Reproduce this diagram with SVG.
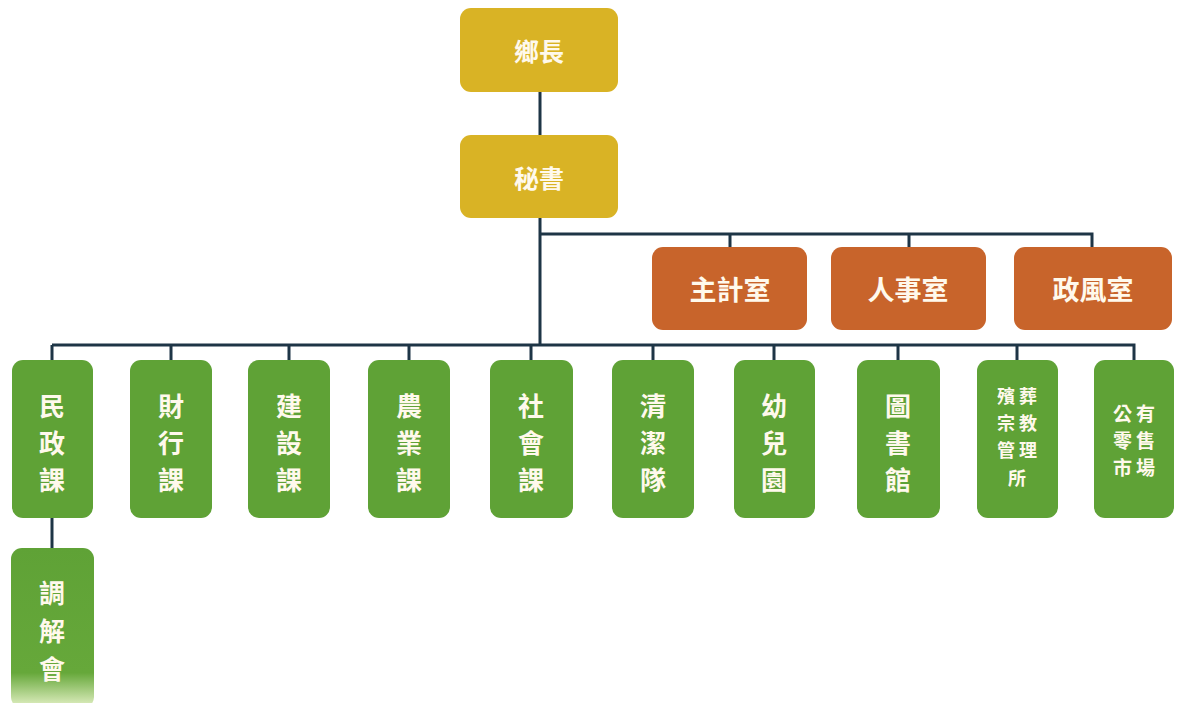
<svg xmlns="http://www.w3.org/2000/svg" width="1178" height="703" viewBox="0 0 1178 703">
<defs>
<style>
.y{fill:#D9B325}
.o{fill:#C8642B}
.g{fill:#5FA236}
.t{fill:#FFF9EC;font-family:"Noto Sans CJK TC","Noto Sans CJK SC",sans-serif;font-weight:bold;text-anchor:middle;dominant-baseline:central}
.s{letter-spacing:4px}
.ln{stroke:#1E3546;stroke-width:3;fill:none}
</style>
<linearGradient id="fade" x1="0" y1="0" x2="0" y2="1">
<stop offset="0" stop-color="#5FA236"/>
<stop offset="0.78" stop-color="#66A83A"/>
<stop offset="1" stop-color="#E6F2C8"/>
</linearGradient>
</defs>
<rect width="1178" height="703" fill="#fff"/>
<g id="connectors" class="ln">
<path d="M540 92V135M540 218V345"/>
<path d="M540 234H1092V247M730 234V247M909 234V247"/>
<path d="M52 345H1134V360M52 345V360M171 345V360M289 345V360M409 345V360M531 345V360M653 345V360M774 345V360M898 345V360M1017 345V360"/>
<path d="M52 518V548"/>
</g>
<g id="n-xiangzhang"><rect class="y" x="460" y="8" width="158" height="84" rx="11"/><text class="t" x="539" y="50" font-size="25">鄉長</text></g>
<g id="n-mishu"><rect class="y" x="460" y="135" width="158" height="83" rx="11"/><text class="t" x="539" y="177" font-size="25">秘書</text></g>
<g id="n-zhuji"><rect class="o" x="652" y="247" width="155" height="83" rx="11"/><text class="t" x="730" y="288" font-size="27">主計室</text></g>
<g id="n-renshi"><rect class="o" x="831" y="247" width="155" height="83" rx="11"/><text class="t" x="908" y="288" font-size="27">人事室</text></g>
<g id="n-zhengfeng"><rect class="o" x="1014" y="247" width="158" height="83" rx="11"/><text class="t" x="1093" y="288" font-size="27">政風室</text></g>
<g id="n-minzheng"><rect class="g" x="12" y="360" width="81" height="158" rx="11"/><text class="t" font-size="26" x="52"><tspan x="52" y="404">民</tspan><tspan x="52" y="441">政</tspan><tspan x="52" y="478">課</tspan></text></g>
<g id="n-caixing"><rect class="g" x="130" y="360" width="82" height="158" rx="11"/><text class="t" font-size="26"><tspan x="171" y="404">財</tspan><tspan x="171" y="441">行</tspan><tspan x="171" y="478">課</tspan></text></g>
<g id="n-jianshe"><rect class="g" x="248" y="360" width="82" height="158" rx="11"/><text class="t" font-size="26"><tspan x="289" y="404">建</tspan><tspan x="289" y="441">設</tspan><tspan x="289" y="478">課</tspan></text></g>
<g id="n-nongye"><rect class="g" x="368" y="360" width="82" height="158" rx="11"/><text class="t" font-size="26"><tspan x="409" y="404">農</tspan><tspan x="409" y="441">業</tspan><tspan x="409" y="478">課</tspan></text></g>
<g id="n-shehui"><rect class="g" x="490" y="360" width="83" height="158" rx="11"/><text class="t" font-size="26"><tspan x="531" y="404">社</tspan><tspan x="531" y="441">會</tspan><tspan x="531" y="478">課</tspan></text></g>
<g id="n-qingjie"><rect class="g" x="612" y="360" width="82" height="158" rx="11"/><text class="t" font-size="26"><tspan x="653" y="404">清</tspan><tspan x="653" y="441">潔</tspan><tspan x="653" y="478">隊</tspan></text></g>
<g id="n-youer"><rect class="g" x="734" y="360" width="81" height="158" rx="11"/><text class="t" font-size="26"><tspan x="774" y="404">幼</tspan><tspan x="774" y="441">兒</tspan><tspan x="774" y="478">園</tspan></text></g>
<g id="n-tushu"><rect class="g" x="857" y="360" width="83" height="158" rx="11"/><text class="t" font-size="26"><tspan x="898" y="404">圖</tspan><tspan x="898" y="441">書</tspan><tspan x="898" y="478">館</tspan></text></g>
<g id="n-binzang"><rect class="g" x="977" y="360" width="81" height="158" rx="11"/><text class="t s" font-size="18"><tspan x="1019" y="395">殯葬</tspan><tspan x="1019" y="422">宗教</tspan><tspan x="1019" y="449">管理</tspan><tspan x="1019" y="477">所</tspan></text></g>
<g id="n-gongyou"><rect class="g" x="1094" y="360" width="80" height="158" rx="11"/><text class="t s" font-size="19"><tspan x="1136" y="412">公有</tspan><tspan x="1136" y="439">零售</tspan><tspan x="1136" y="466">市場</tspan></text></g>
<g id="n-tiaojie"><rect x="11" y="548" width="83" height="160" rx="11" fill="url(#fade)"/><text class="t" font-size="26"><tspan x="52" y="591">調</tspan><tspan x="52" y="629">解</tspan><tspan x="52" y="667">會</tspan></text></g>
</svg>
